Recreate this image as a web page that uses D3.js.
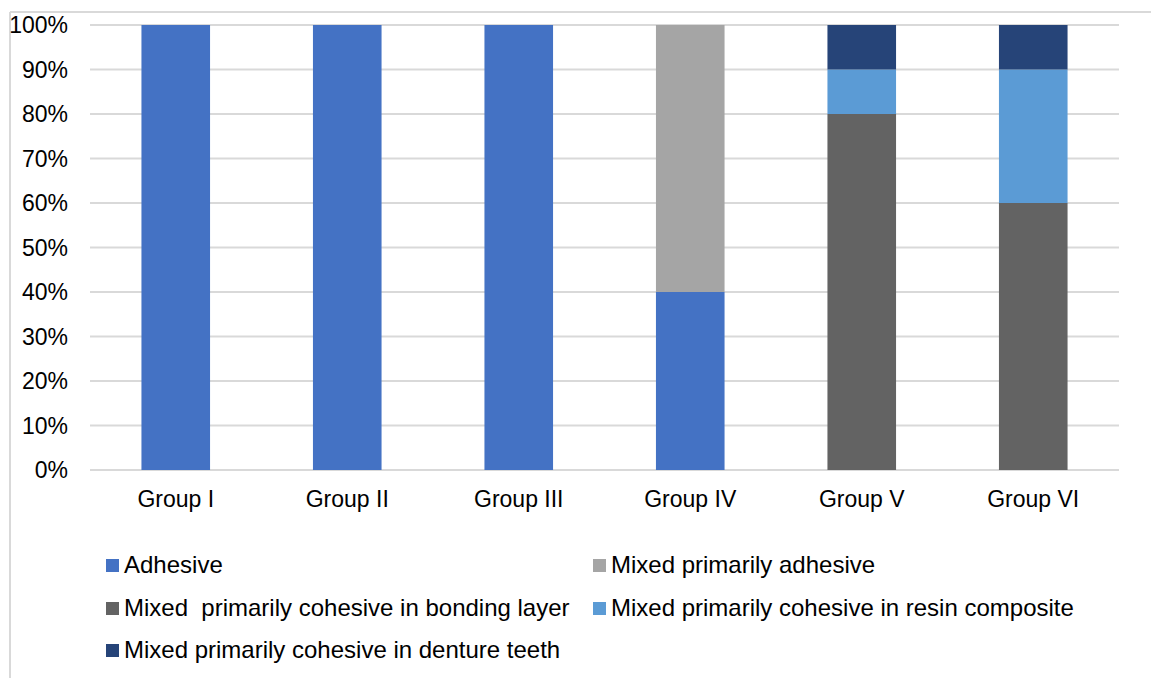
<!DOCTYPE html>
<html>
<head>
<meta charset="utf-8">
<script src="https://cdn.jsdelivr.net/npm/d3@7"></script>
<style>
  body { margin: 0; background: #fff; }
  svg text { font-family: "Liberation Sans", Arial, sans-serif; fill: #000; }
</style>
</head>
<body>
<div id="d3-container"></div>
<script>
const groups = ["Group I", "Group II", "Group III", "Group IV", "Group V", "Group VI"];
const seriesNames = [
  "Adhesive",
  "Mixed primarily adhesive",
  "Mixed  primarily cohesive in bonding layer",
  "Mixed primarily cohesive in resin composite",
  "Mixed primarily cohesive in denture teeth"
];
const adhesive = [100, 100, 100, 40, 0, 0];
const mixedAdhesive = [0, 0, 0, 60, 0, 0];
const bondingLayer = [0, 0, 0, 0, 80, 60];
const resinComposite = [0, 0, 0, 0, 10, 30];
const dentureTeeth = [0, 0, 0, 0, 10, 10];
const colors = ["#4472C4", "#A5A5A5", "#636363", "#5B9BD5", "#264478"];
const yTicks = [0, 10, 20, 30, 40, 50, 60, 70, 80, 90, 100];

const seriesValues = [adhesive, mixedAdhesive, bondingLayer, resinComposite, dentureTeeth];
const data = groups.map((g, i) => {
  const row = { group: g };
  seriesNames.forEach((s, j) => row[s] = seriesValues[j][i]);
  return row;
});
const stacked = d3.stack().keys(seriesNames)(data);

const width = 1151, height = 678;
const margin = { top: 25, bottom: 208, left: 90, right: 32 };

const svg = d3.select("#d3-container")
  .append("svg")
  .attr("width", width)
  .attr("height", height);

// outer frame lines
svg.append("line").attr("x1", 10).attr("x2", 10).attr("y1", 12).attr("y2", height)
  .attr("stroke", "#d9d9d9").attr("stroke-width", 2);
svg.append("line").attr("x1", 10).attr("x2", width).attr("y1", 12).attr("y2", 12)
  .attr("stroke", "#d9d9d9").attr("stroke-width", 2);

const xScale = d3.scaleBand()
  .domain(groups)
  .range([margin.left, width - margin.right])
  .paddingInner(0.6)
  .paddingOuter(0.3);

const yScale = d3.scaleLinear()
  .domain([0, 100])
  .range([height - margin.bottom, margin.top]);

// gridlines
svg.append("g")
  .selectAll("line")
  .data(yTicks)
  .join("line")
  .attr("x1", margin.left)
  .attr("x2", width - margin.right)
  .attr("y1", d => yScale(d))
  .attr("y2", d => yScale(d))
  .attr("stroke", "#d9d9d9")
  .attr("stroke-width", 2);

// y labels
svg.append("g")
  .selectAll("text")
  .data(yTicks)
  .join("text")
  .attr("x", 68)
  .attr("y", d => yScale(d))
  .attr("dy", "0.35em")
  .attr("text-anchor", "end")
  .style("font-size", "23px")
  .text(d => d + "%");

// bars
svg.append("g")
  .selectAll("g")
  .data(stacked)
  .join("g")
  .attr("fill", (d, i) => colors[i])
  .selectAll("rect")
  .data(d => d.filter(p => p[1] - p[0] > 0))
  .join("rect")
  .attr("x", d => xScale(d.data.group))
  .attr("width", xScale.bandwidth())
  .attr("y", d => yScale(d[1]))
  .attr("height", d => yScale(d[0]) - yScale(d[1]));

// x labels
svg.append("g")
  .selectAll("text")
  .data(groups)
  .join("text")
  .attr("x", d => xScale(d) + xScale.bandwidth() / 2)
  .attr("y", 507)
  .attr("text-anchor", "middle")
  .style("font-size", "23px")
  .text(d => d);

// legend
const legendPos = [
  { x: 106, y: 565 },
  { x: 593, y: 565 },
  { x: 106, y: 608 },
  { x: 593, y: 608 },
  { x: 106, y: 650 }
];
const legend = svg.append("g")
  .selectAll("g")
  .data(seriesNames)
  .join("g")
  .attr("transform", (d, i) => `translate(${legendPos[i].x}, ${legendPos[i].y})`);
legend.append("rect")
  .attr("x", 0)
  .attr("y", -6)
  .attr("width", 13)
  .attr("height", 13)
  .attr("fill", (d, i) => colors[i]);
legend.append("text")
  .attr("x", 18)
  .attr("y", 0)
  .attr("dy", "0.35em")
  .style("font-size", "24px")
  .style("white-space", "pre")
  .text(d => d);
</script>
</body>
</html>
